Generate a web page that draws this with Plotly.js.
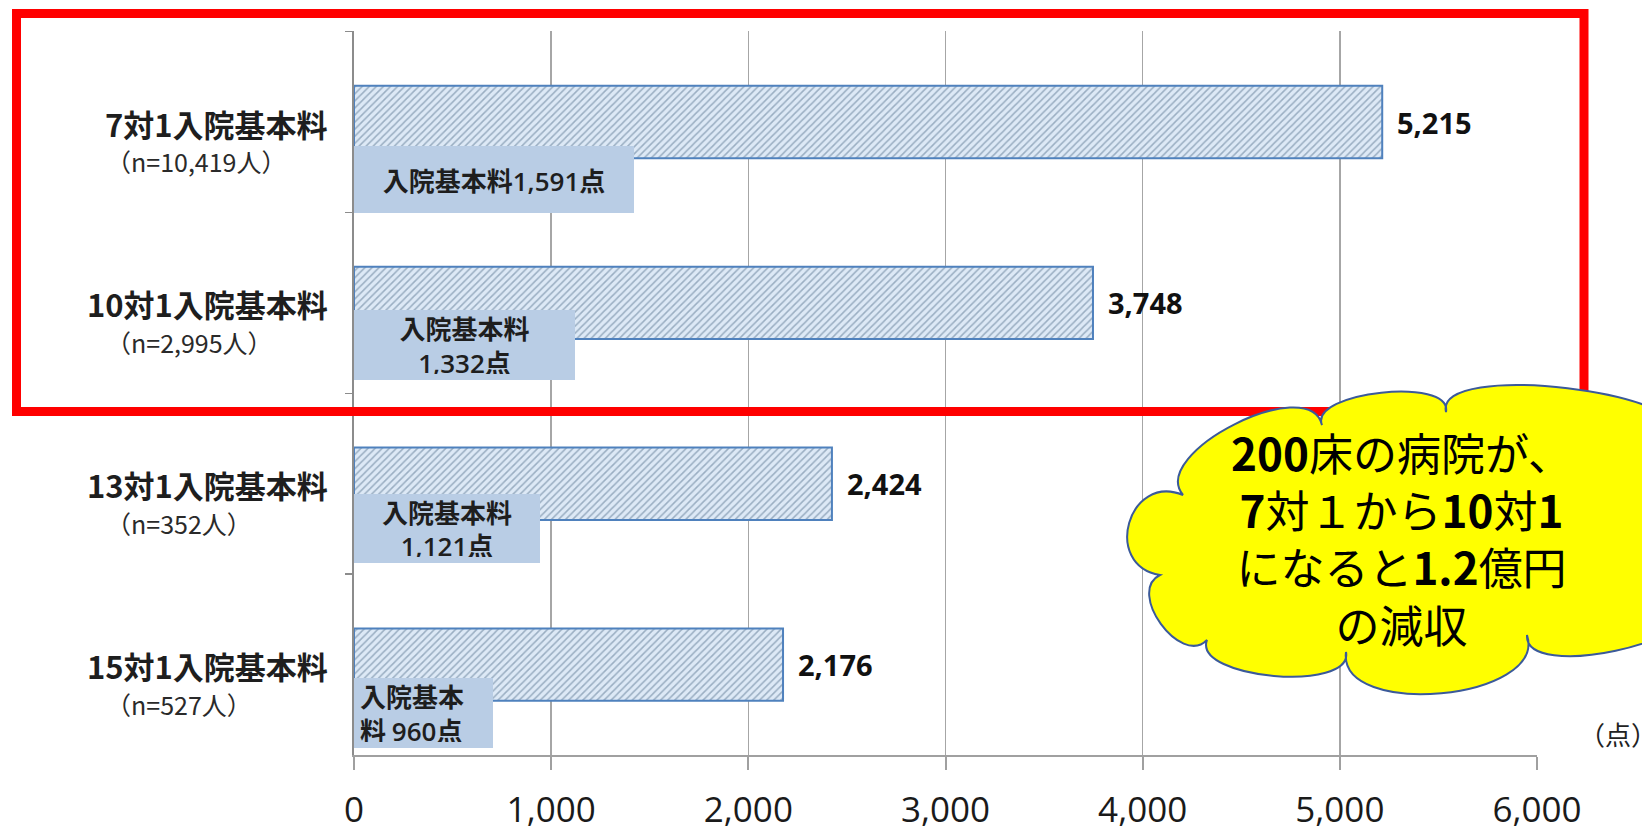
<!DOCTYPE html>
<html><head><meta charset="utf-8">
<script src="https://cdn.plot.ly/plotly-3.0.1.min.js"></script>
<style>html,body{margin:0;padding:0;background:#fff;} #chart{width:1642px;height:832px;}</style>
</head><body><div id="chart"></div>
<script>
// ---------- data ----------
const categories = ['7対1入院基本料', '10対1入院基本料', '13対1入院基本料', '15対1入院基本料'];
const patientCounts = ['10,419', '2,995', '352', '527'];
const totalPoints = [5215, 3748, 2424, 2176];
const baseFeePoints = [1591, 1332, 1121, 960];
const baseFeeLabel = '入院基本料';
const xTickValues = [0, 1000, 2000, 3000, 4000, 5000, 6000];
const unitLabel = '（点）';
const calloutLines = ['<b>200</b>床の病院が、', '<b>7</b>対１から<b>10</b>対<b>1</b>', 'になると<b>1.2</b>億円', 'の減収'];

// ---------- layout helpers ----------
const W = 1642, H = 832;
const M = {l: 354, r: 105, t: 31, b: 77};
const PW = W - M.l - M.r, PH = H - M.t - M.b;
const px = X => (X - M.l) / PW;
const py = Y => 1 - (Y - M.t) / PH;
const fmt = v => v.toLocaleString('en-US');

const JP = '"Noto Sans CJK JP", "Noto Sans", sans-serif';
const NUM = '"Open Sans", "Noto Sans", sans-serif';

// box styles for the base-fee text boxes (layout only)
const boxStyle = [
  {w: 280, h: 67, dy: -57.5, align: 'center', wrap: 0},
  {w: 221, h: 70, dy: -42, align: 'center', wrap: 1},
  {w: 186, h: 69, dy: -44.5, align: 'center', wrap: 1},
  {w: 139, h: 70, dy: -48, align: 'left', wrap: 2}
];
const numSpan = v => '<span style="font-family:\'Open Sans\';font-weight:600">' + fmt(v) + '</span>';
function boxText(v, wrap) {
  if (wrap === 0) return '<b>' + baseFeeLabel + '</b>' + numSpan(v) + '<b>点</b>';
  if (wrap === 1) return '<b>' + baseFeeLabel + '</b><br>' + numSpan(v) + '<b>点</b>';
  return '<b>' + baseFeeLabel.slice(0, 4) + '</b><br><b>' + baseFeeLabel.slice(4) + '</b> ' + numSpan(v) + '<b>点</b>';
}

const annotations = [];
categories.forEach((c, i) => {
  // category label, first line
  annotations.push({xref: 'paper', yref: 'y', x: px(330), y: c, xanchor: 'right', yanchor: 'middle',
    yshift: -1, text: '<b>' + c + '</b>', showarrow: false,
    font: {family: JP, size: 31, color: '#1e1e1e'}});
  // second line
  annotations.push({xref: 'paper', yref: 'y', x: px(104), y: c, xanchor: 'left', yanchor: 'middle',
    yshift: -39, text: '（n=' + patientCounts[i] + '人）', showarrow: false,
    font: {family: JP, size: 25, color: '#2a2a2a'}});
  // value label
  annotations.push({xref: 'x', yref: 'y', x: totalPoints[i], y: c, xanchor: 'left', yanchor: 'middle',
    xshift: 13, text: '<b>' + fmt(totalPoints[i]) + '</b>', showarrow: false,
    font: {family: NUM, size: 29, color: '#111'}});
  // base fee box
  const s = boxStyle[i];
  annotations.push({xref: 'x', yref: 'y', x: 0, y: c, xanchor: 'left', yanchor: 'middle',
    yshift: s.dy, text: boxText(baseFeePoints[i], s.wrap), showarrow: false,
    width: s.w - 12, height: s.h - 12, borderpad: 6, borderwidth: 0, bgcolor: '#b9cde5',
    align: s.align, valign: 'middle',
    font: {family: JP, size: 26, color: '#1e1e1e'}});
});

// unit label
annotations.push({xref: 'paper', yref: 'paper', x: px(1577), y: py(733), xanchor: 'left', yanchor: 'middle',
  text: unitLabel, showarrow: false, font: {family: JP, size: 26, color: '#222'}});

// callout text
annotations.push({xref: 'paper', yref: 'paper', x: px(1401), y: py(538), xanchor: 'center', yanchor: 'middle',
  text: calloutLines.join('<br>'), showarrow: false, align: 'center',
  font: {family: JP, size: 44, color: '#000'}});

// cloud outline (layout decoration)
const cusps = [[1160,575],[1183,495],[1322,425],[1446,412],[1680,440],[1690,600],[1527,635],[1346,652],[1207,640]];
const sag = [44, 40, 26, 38, 30, 34, 50, 30, 28];
let path = '';
for (let i = 0; i < cusps.length; i++) {
  const a = cusps[i], b = cusps[(i + 1) % cusps.length];
  const dx = b[0] - a[0], dy = b[1] - a[1], L = Math.hypot(dx, dy);
  const nx = dy / L, ny = -dx / L, k = sag[i] * 4 / 3;
  const c1 = [a[0] + nx * k - dx * 0.08, a[1] + ny * k - dy * 0.08];
  const c2 = [b[0] + nx * k + dx * 0.08, b[1] + ny * k + dy * 0.08];
  if (i === 0) path += 'M' + px(a[0]) + ',' + py(a[1]);
  path += ' C' + px(c1[0]) + ',' + py(c1[1]) + ' ' + px(c2[0]) + ',' + py(c2[1]) + ' ' + px(b[0]) + ',' + py(b[1]);
}
path += ' Z';

const shapes = [
  {type: 'rect', xref: 'paper', yref: 'paper', x0: px(16.5), x1: px(1584), y0: py(13.5), y1: py(411.5),
    line: {color: '#ff0000', width: 9}, fillcolor: 'rgba(0,0,0,0)', layer: 'above'},
  {type: 'path', xref: 'paper', yref: 'paper', path: path, fillcolor: '#ffff00',
    line: {color: '#3b5a9a', width: 2}, layer: 'above'}
];

const trace = {
  type: 'bar', orientation: 'h', y: categories, x: totalPoints,
  marker: {color: '#dde9f6', line: {color: '#4f81bd', width: 2},
    pattern: {shape: '/', fgcolor: '#9aaec2', bgcolor: '#dde9f6', size: 5, solidity: 0.3}},
  hoverinfo: 'none', showlegend: false
};

const layout = {
  width: W, height: H, margin: M, paper_bgcolor: '#fff', plot_bgcolor: '#fff',
  bargap: 0.6, showlegend: false,
  xaxis: {range: [0, 6000], tickvals: xTickValues, ticktext: xTickValues.map(fmt),
    showgrid: true, gridcolor: '#a6a6a6', gridwidth: 1.5, zeroline: false,
    showline: true, linecolor: '#a0a0a0', linewidth: 2,
    ticks: 'outside', ticklen: 13, tickwidth: 2, tickcolor: '#a0a0a0', ticklabelstandoff: 10,
    tickfont: {family: NUM, size: 35, color: '#1a1a1a'}, fixedrange: true},
  yaxis: {type: 'category', autorange: 'reversed', showline: true, linecolor: '#8c8c8c', linewidth: 2,
    ticks: 'outside', tickson: 'boundaries', ticklen: 7, tickwidth: 1.5, tickcolor: '#8c8c8c',
    showticklabels: false, showgrid: false, zeroline: false, fixedrange: true},
  annotations: annotations,
  shapes: shapes
};

Plotly.newPlot('chart', [trace], layout, {displayModeBar: false, staticPlot: true});
</script>
</body></html>
